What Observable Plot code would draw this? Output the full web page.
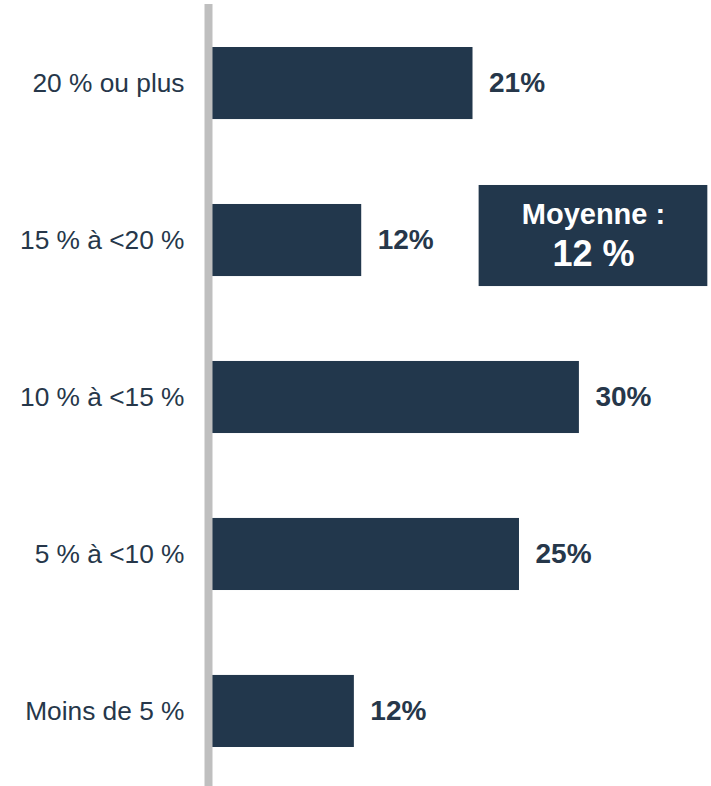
<!DOCTYPE html>
<html>
<head>
<meta charset="utf-8">
<script src="https://cdn.jsdelivr.net/npm/d3@7"></script>
<script src="https://cdn.jsdelivr.net/npm/@observablehq/plot@0.6"></script>
<style>
  html, body { margin: 0; padding: 0; background: #ffffff; }
  #chart svg { display: block; }
</style>
</head>
<body>
<div id="chart"></div>
<script>
const categories = ["20 % ou plus", "15 % à <20 %", "10 % à <15 %", "5 % à <10 %", "Moins de 5 %"];
const values = [21.3, 12.2, 30.0, 25.1, 11.6];
const valueLabels = ["21%", "12%", "30%", "25%", "12%"];
const avgTitle = "Moyenne :";
const avgValue = "12 %";
const avgRow = "15 % à <20 %";
const avgSpan = [21.8, 40.5];

const rows = categories.map((c, i) => ({cat: c, v: values[i], lab: valueLabels[i]}));
const box = [{cat: avgRow, x1: avgSpan[0], x2: avgSpan[1], xm: (avgSpan[0] + avgSpan[1]) / 2}];

const navy = "#22374c";
const font = "Liberation Sans, Arial, Helvetica, sans-serif";

const chart = Plot.plot({
  width: 711,
  height: 786,
  marginLeft: 212,
  marginRight: 0,
  marginTop: 47,
  marginBottom: 39,
  style: {fontFamily: font, background: "#ffffff", overflow: "visible"},
  x: {domain: [0, 40.8], axis: null},
  y: {domain: categories, paddingInner: 0.541, paddingOuter: 0, round: false, axis: null},
  marks: [
    Plot.barX(rows, {x: "v", y: "cat", fill: navy}),
    Plot.ruleX([0], {stroke: "#bfbfbf", strokeWidth: 8, dx: -4, insetTop: -43, insetBottom: -39}),
    Plot.text(rows, {x: 0, y: "cat", text: "cat", textAnchor: "end", dx: -28, fontSize: 26.3, fill: "#26374a"}),
    Plot.text(rows, {x: "v", y: "cat", text: "lab", textAnchor: "start", dx: 16, fontSize: 28, fontWeight: "bold", fill: "#26374a"}),
    Plot.rect(box, {x1: "x1", x2: "x2", y: "cat", fill: navy, insetTop: -19, insetBottom: -10}),
    Plot.text(box, {x: "xm", y: "cat", text: () => avgTitle, fontSize: 29, fontWeight: "bold", fill: "#ffffff", dy: -26}),
    Plot.text(box, {x: "xm", y: "cat", text: () => avgValue, fontSize: 36, fontWeight: "bold", fill: "#ffffff", dy: 14})
  ]
});
document.getElementById("chart").appendChild(chart);
</script>
</body>
</html>
